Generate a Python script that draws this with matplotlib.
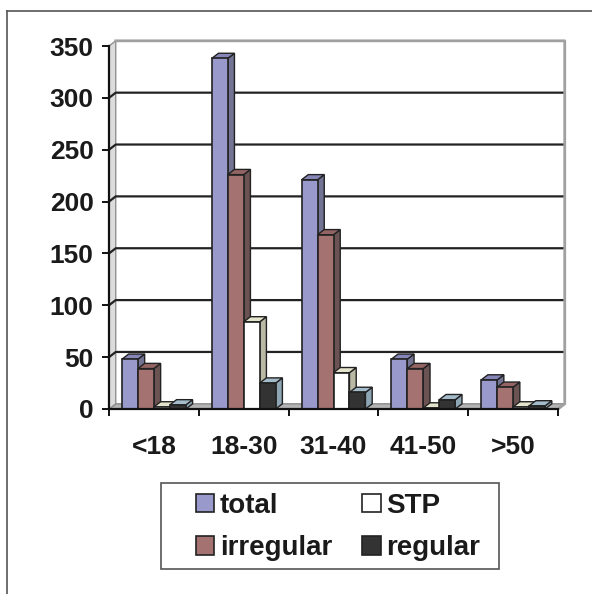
import numpy as np
import matplotlib.pyplot as plt
from matplotlib.patches import Polygon, Patch, Rectangle
from matplotlib.lines import Line2D

# age groups and counts per group
groups = ['<18', '18-30', '31-40', '41-50', '>50']
total = [48, 338, 221, 48, 28]
irregular = [39, 226, 168, 39, 21]
stp = [2, 84, 35, 1, 2]
regular = [4, 25, 16, 9, 3]

series = [total, irregular, stp, regular]
names = ['total', 'irregular', 'STP', 'regular']
# front, side, top colours for each series
front_col = ['#9999cc', '#a57272', '#ffffff', '#333333']
side_col = ['#737394', '#6b5353', '#b9b9a4', '#8ea6b4']
top_col = ['#8585b8', '#946464', '#e4e4cc', '#a4bcca']

plt.rcParams['font.family'] = ['Liberation Sans', 'DejaVu Sans']
plt.rcParams['font.weight'] = 'bold'

fig = plt.figure(figsize=(5.92, 5.94), dpi=100)
ax = fig.add_axes([109 / 592, 1 - 409 / 594, 449 / 592, 363 / 594])
ymax = 350
ax.set_xlim(-0.5, len(groups) - 0.5)
ax.set_ylim(0, ymax)
for s in ax.spines.values():
    s.set_visible(False)

# depth of the 3d box, in data units
dx, dy = 0.075, 5.0
x0, x1 = -0.5, len(groups) - 0.5

# floor and left wall
ax.add_patch(Polygon([(x0, 0), (x1, 0), (x1 + dx, dy), (x0 + dx, dy)],
                     facecolor='#b4b4b4', edgecolor='#8a8a8a', lw=1, zorder=1, clip_on=False))
ax.add_patch(Polygon([(x0, 0), (x0 + dx, dy), (x0 + dx, ymax + dy), (x0, ymax)],
                     facecolor='#dcdcdc', edgecolor='#909090', lw=1, zorder=1, clip_on=False))

# gridlines on the back wall
yt = np.arange(0, ymax + 1, 50)
for v in yt[1:-1]:
    ax.plot([x0, x0 + dx, x1 + dx], [v, v + dy, v + dy], color='#222222', lw=1.6,
            zorder=1, clip_on=False)
ax.plot([x0 + dx, x1 + dx, x1 + dx, x1], [ymax + dy, ymax + dy, dy, 0],
        color='#a0a0a0', lw=2, zorder=1, clip_on=False)

# 3d columns
w = 0.178
z = 2
for c in range(len(groups)):
    for i, vals in enumerate(series):
        v = vals[c]
        xl = c - 2 * w + i * w
        xr = xl + w
        ax.add_patch(Polygon([(xr, 0), (xr + dx, dy), (xr + dx, v + dy), (xr, v)],
                             facecolor=side_col[i], edgecolor='#222222', lw=1,
                             zorder=z, clip_on=False))
        ax.add_patch(Polygon([(xl, v), (xr, v), (xr + dx, v + dy), (xl + dx, v + dy)],
                             facecolor=top_col[i], edgecolor='#222222', lw=1,
                             zorder=z, clip_on=False))
        ax.bar(xl, v, width=w, align='edge', color=front_col[i], edgecolor='#222222',
               lw=1.2, zorder=z + 0.5, clip_on=False)
        z += 1

# front axis lines
ax.plot([x0, x0], [0, ymax], color='#111111', lw=1.6, zorder=50, clip_on=False)
ax.plot([x0, x1], [0, 0], color='#111111', lw=1.6, zorder=50, clip_on=False)

ax.set_yticks(yt)
ax.tick_params(axis='y', length=5, width=1.4, pad=6, labelsize=19, color='#111111')
ax.set_xticks(np.arange(len(groups) + 1) - 0.5)
ax.set_xticklabels([])
ax.tick_params(axis='x', which='major', length=5, width=1.4, color='#111111')
ax.set_xticks(np.arange(len(groups)), minor=True)
ax.set_xticklabels(groups, minor=True)
ax.tick_params(axis='x', which='minor', length=0, pad=19, labelsize=19)
for t in ax.get_yticklabels() + ax.get_xticklabels(minor=True):
    t.set_fontweight('bold')
    t.set_color('#1a1a1a')

# legend: entries without frame, box drawn separately
handles = [Patch(facecolor=front_col[i], edgecolor='#222222', lw=1.2) for i in range(4)]
leg = fig.legend(handles, names, loc='center', bbox_to_anchor=(338 / 592, 1 - 527 / 594),
                 ncol=2, frameon=False, fontsize=20,
                 handlelength=0.65, handleheight=0.65, handletextpad=0.2,
                 columnspacing=1.1, labelspacing=0.6, borderpad=0.0)
for t in leg.get_texts():
    t.set_fontweight('bold')
    t.set_color('#1a1a1a')
fig.add_artist(Rectangle((161 / 592, 1 - 569 / 594), 338 / 592, 86 / 594,
                         transform=fig.transFigure, facecolor='none',
                         edgecolor='#555555', lw=1.2))

# outer frame
fig.add_artist(Line2D([7 / 592, 7 / 592], [0, 1 - 11 / 594], color='#555555', lw=1.2,
                      transform=fig.transFigure))
fig.add_artist(Line2D([7 / 592, 1], [1 - 11 / 594, 1 - 11 / 594], color='#555555', lw=1.2,
                      transform=fig.transFigure))

fig.savefig('out.png', dpi=100)
